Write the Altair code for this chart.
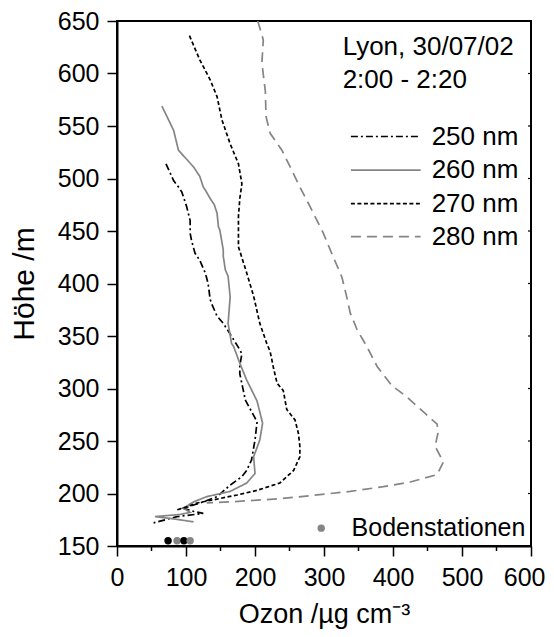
import altair as alt
import pandas as pd

# ---- data ----
x250 = [71, 82, 89, 94, 101, 106, 106, 108, 113, 120, 128, 132, 135, 137, 145, 154, 161, 178, 181, 178, 178, 186, 200, 203, 200, 195, 188, 181, 164, 145, 125, 111, 96, 111, 125, 87, 70, 53]
y250 = [514, 498, 492, 487, 473, 460, 448, 441, 429, 422, 410, 400, 385, 381, 369, 362, 355, 337, 333, 322, 314, 289, 272, 268, 251, 232, 222, 216, 208, 197, 192, 189, 186, 183, 181, 178, 175, 172]

x260 = [65, 82, 89, 111, 120, 125, 128, 135, 141, 145, 147, 149, 154, 154, 157, 161, 164, 161, 166, 169, 178, 188, 203, 211, 207, 198, 200, 188, 164, 130, 111, 96, 106, 91, 55, 80, 111]
y260 = [569, 546, 527, 511, 502, 492, 489, 481, 475, 467, 454, 451, 432, 426, 413, 407, 387, 362, 343, 340, 324, 308, 288, 267, 251, 235, 219, 210, 202, 197, 192, 186, 182, 180, 178, 176, 173]

x270 = [105, 120, 135, 145, 152, 164, 176, 181, 178, 176, 176, 188, 198, 207, 217, 222, 227, 232, 241, 246, 258, 263, 265, 265, 256, 236, 203, 174, 140, 116, 100, 85]
y270 = [636, 613, 594, 578, 556, 533, 514, 495, 481, 464, 435, 410, 388, 362, 343, 335, 319, 305, 298, 280, 270, 257, 245, 235, 222, 210, 203, 198.6, 194, 191, 187, 184]

x280 = [204, 212, 210, 215, 216, 222, 239, 251, 265, 280, 299, 311, 326, 333, 338, 348, 362, 377, 398, 420, 447, 464, 465, 461, 473, 464, 425, 386, 338, 290, 236, 164, 130]
y280 = [650, 632, 610, 583, 559, 543, 527, 511, 492, 473, 448, 429, 406, 387, 372, 356, 340, 321, 303, 292, 276, 266, 257, 245, 230, 218, 211, 206.5, 202, 198.6, 195, 192, 191]

station_x = [74, 87, 97, 106]
station_y = [155, 155, 155, 155]
station_kind = ["schwarz", "grau", "schwarz", "grau"]

series_names = ["250 nm", "260 nm", "270 nm", "280 nm"]
x_major = list(range(0, 601, 100))
x_minor = list(range(50, 600, 100))
y_ticks = list(range(150, 651, 50))

GRAY = "#858585"
FONT = "Liberation Sans"
W, H = 414, 525

styles = {
    "250 nm": dict(color="black", dash=[7, 3, 2, 3]),
    "260 nm": dict(color=GRAY, dash=[1, 0]),
    "270 nm": dict(color="black", dash=[4, 2.5]),
    "280 nm": dict(color=GRAY, dash=[10, 6]),
}

xs = {"250 nm": x250, "260 nm": x260, "270 nm": x270, "280 nm": x280}
ys = {"250 nm": y250, "260 nm": y260, "270 nm": y270, "280 nm": y280}

xscale = alt.Scale(domain=[0, 600], nice=False, zero=False)
yscale = alt.Scale(domain=[150, 650], nice=False, zero=False)

xaxis = alt.Axis(
    values=x_major, tickSize=10,
    grid=False, domainWidth=2, domainColor="black", tickColor="black", tickWidth=1.5,
    labelFontSize=25, labelFont=FONT, labelColor="black", labelPadding=9, labelFlush=False,
    labelAlign={"condition": {"test": "datum.value == 600", "value": "right"}, "value": "center"},
    labelOffset={"condition": {"test": "datum.value == 600", "value": 14}, "value": 0},
    title="Ozon /µg cm⁻³", titleFontSize=27, titleFont=FONT, titleFontWeight="normal",
    titleColor="black", titlePadding=11,
)
yaxis = alt.Axis(
    values=y_ticks, tickSize=10,
    grid=False, domainWidth=2, domainColor="black", tickColor="black", tickWidth=1.5,
    labelFontSize=25, labelFont=FONT, labelColor="black", labelPadding=8, labelFlush=False,
    title="Höhe /m", titleFontSize=30, titleFont=FONT, titleFontWeight="normal",
    titleColor="black", titlePadding=18,
)


def X(field="x:Q"):
    return alt.X(field, scale=xscale, axis=xaxis)


def Y(field="y:Q"):
    return alt.Y(field, scale=yscale, axis=yaxis)


layers = []
for name in series_names:
    df = pd.DataFrame({"x": xs[name], "y": ys[name]})
    df["i"] = range(len(df))
    st = styles[name]
    layers.append(
        alt.Chart(df).mark_line(color=st["color"], strokeDash=st["dash"], strokeWidth=1.7, clip=True)
        .encode(x=X(), y=Y(), order="i:O")
    )

# minor ticks on the x axis
mdf = pd.DataFrame({"x": x_minor})
layers.append(
    alt.Chart(mdf).mark_rule(color="black", strokeWidth=1.5).encode(
        x=X(), y=alt.value(H), y2=alt.value(H + 5)
    )
)

# small inward ticks on the right frame
rdf = pd.DataFrame({"y": y_ticks[1:-1]})
layers.append(
    alt.Chart(rdf).mark_rule(color="black", strokeWidth=1.2).encode(
        y=Y(), x=alt.value(W - 3), x2=alt.value(W)
    )
)

# ground stations
sdf = pd.DataFrame({"x": station_x, "y": station_y, "k": station_kind})
layers.append(
    alt.Chart(sdf).mark_circle(size=55, opacity=1).encode(
        x=X(), y=Y(),
        color=alt.Color("k:N", scale=alt.Scale(domain=["schwarz", "grau"], range=["black", GRAY]), legend=None),
    )
)

# legend (manual)
leg_y = [540, 508, 476, 444.6]
for name, ly in zip(series_names, leg_y):
    st = styles[name]
    ldf = pd.DataFrame({"x": [339], "x2": [440], "y": [ly], "t": [name]})
    layers.append(
        alt.Chart(ldf).mark_rule(color=st["color"], strokeDash=st["dash"], strokeWidth=1.7).encode(
            x=X(), x2="x2:Q", y=Y()
        )
    )
    layers.append(
        alt.Chart(ldf).mark_text(align="left", baseline="middle", fontSize=26, font=FONT, color="black").encode(
            x=alt.value(456 * W / 600), y=Y(), text="t:N"
        )
    )

# heading text
hdf = pd.DataFrame({"y": [625, 594], "t": ["Lyon, 30/07/02", "2:00 - 2:20"]})
layers.append(
    alt.Chart(hdf).mark_text(align="left", baseline="middle", fontSize=26, font=FONT, color="black").encode(
        x=alt.value(327 * W / 600), y=Y(), text="t:N"
    )
)

# Bodenstationen legend
bdf = pd.DataFrame({"x": [296], "y": [167], "t": ["Bodenstationen"]})
layers.append(
    alt.Chart(bdf).mark_circle(size=55, color=GRAY, opacity=1).encode(x=X(), y=Y())
)
layers.append(
    alt.Chart(bdf).mark_text(align="left", baseline="middle", fontSize=25, font=FONT, color="black").encode(
        x=alt.value(340 * W / 600), y=Y(), text="t:N"
    )
)

chart = alt.layer(*layers).properties(
    width=W, height=H,
    autosize="none",
    padding={"left": 109, "top": 13, "right": 15, "bottom": 83},
    background="white",
).configure_view(stroke="black", strokeWidth=2)

chart.save("out.html", embed_options={"renderer": "svg", "actions": False})
